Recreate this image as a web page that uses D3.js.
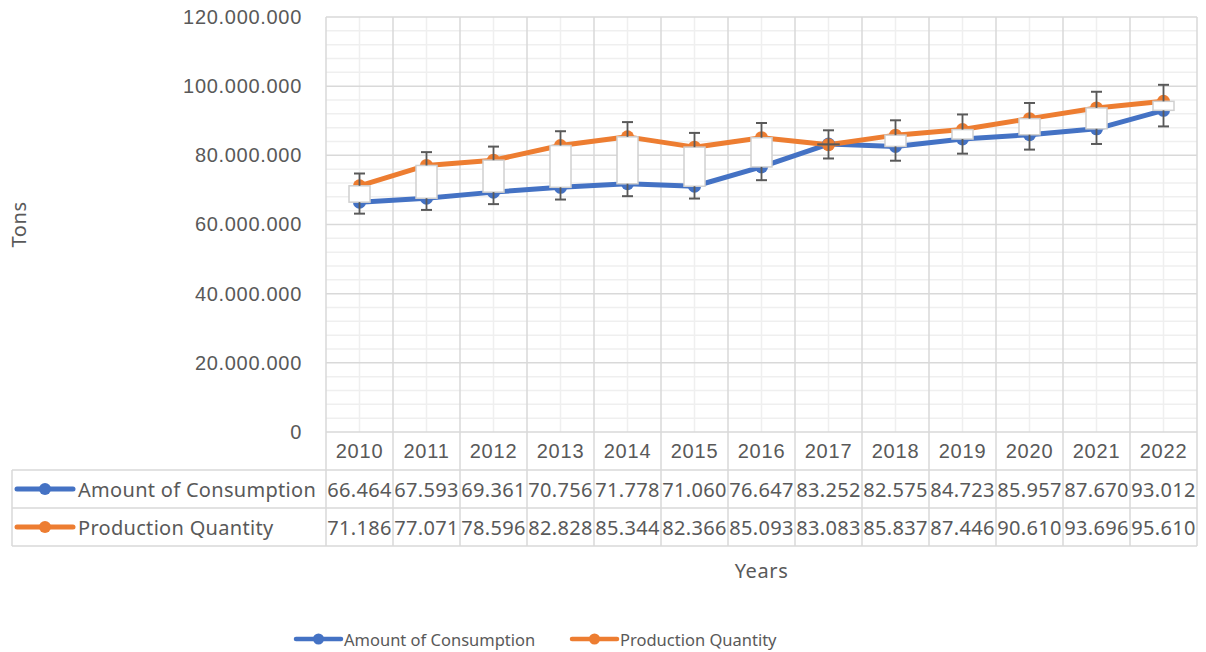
<!DOCTYPE html>
<html>
<head>
<meta charset="utf-8">
<script src="https://cdn.jsdelivr.net/npm/d3@7"></script>
<style>
  html, body { margin: 0; padding: 0; background: #fff; }
</style>
</head>
<body>
<div id="chart"></div>
<script>
// Data (tons)
const years = ["2010", "2011", "2012", "2013", "2014", "2015", "2016", "2017", "2018", "2019", "2020", "2021", "2022"];
const consumption = [66464000, 67593000, 69361000, 70756000, 71778000, 71060000, 76647000, 83252000, 82575000, 84723000, 85957000, 87670000, 93012000];
const production = [71186000, 77071000, 78596000, 82828000, 85344000, 82366000, 85093000, 83083000, 85837000, 87446000, 90610000, 93696000, 95610000];
const seriesNames = ["Amount of Consumption", "Production Quantity"];
const seriesColors = ["#4472C4", "#ED7D31"];
const yTickValues = [0, 20000000, 40000000, 60000000, 80000000, 100000000, 120000000];
const errorPercent = 0.05; // error bar amount used in the chart

class Chart {
  constructor() {
    const attrs = {
      svgWidth: 1206,
      svgHeight: 652,
      marginTop: 17,
      marginBottom: 220,
      marginRight: 9,
      marginLeft: 326,
      container: "#chart",
      defaultTextFill: "#595959",
      defaultFont: "'Noto Sans', 'Open Sans', sans-serif",
      gridMajor: "#d9d9d9",
      gridMinor: "#efefef",
      tableLeft: 12,
      rowHeight: 38,
      chartWidth: null,
      chartHeight: null
    };
    this.getState = () => attrs;
    this.setState = (d) => Object.assign(attrs, d);
  }

  render() {
    this.calculateProperties();
    this.drawSvgAndWrappers();
    this.drawGrid();
    this.drawAxes();
    this.drawTable();
    this.drawSeries();
    this.drawLegend();
    return this;
  }

  calculateProperties() {
    const { svgWidth, svgHeight, marginLeft, marginRight, marginTop, marginBottom } = this.getState();
    const chartWidth = svgWidth - marginLeft - marginRight;
    const chartHeight = svgHeight - marginTop - marginBottom;

    const x = d3.scaleBand().domain(years).range([0, chartWidth]).paddingInner(0).paddingOuter(0);
    const y = d3.scaleLinear().domain([0, 120000000]).range([chartHeight, 0]);

    const locale = d3.formatLocale({ decimal: ",", thousands: ".", grouping: [3], currency: ["", ""] });
    const fmt = locale.format(",.0f");
    // the table cells only show the first six characters of the value
    const cellFmt = (v) => d3.format(".3f")(v / 1e6);

    this.setState({ chartWidth, chartHeight, x, y, fmt, cellFmt });
  }

  drawSvgAndWrappers() {
    const { container, svgWidth, svgHeight, defaultFont, marginLeft, marginTop } = this.getState();
    const svg = d3.select(container).append("svg")
      .attr("width", svgWidth)
      .attr("height", svgHeight)
      .attr("font-family", defaultFont);

    const chart = svg.append("g")
      .attr("transform", `translate(${marginLeft},${marginTop})`);

    this.setState({ svg, chart });
  }

  drawGrid() {
    const { chart, x, y, chartWidth, chartHeight, gridMajor, gridMinor } = this.getState();
    const g = chart.append("g").attr("class", "grid");

    // minor horizontal lines every 4M
    const minor = d3.range(0, 120000001, 4000000).filter(v => v % 20000000 !== 0);
    g.selectAll(".minor-h").data(minor).join("line")
      .attr("class", "minor-h")
      .attr("x1", 0).attr("x2", chartWidth)
      .attr("y1", d => y(d)).attr("y2", d => y(d))
      .attr("stroke", gridMinor).attr("stroke-width", 1.5);

    // minor vertical lines at category centres
    g.selectAll(".minor-v").data(years).join("line")
      .attr("class", "minor-v")
      .attr("x1", d => x(d) + x.bandwidth() / 2).attr("x2", d => x(d) + x.bandwidth() / 2)
      .attr("y1", 0).attr("y2", chartHeight)
      .attr("stroke", gridMinor).attr("stroke-width", 1.5);

    // major horizontal lines
    g.selectAll(".major-h").data(yTickValues).join("line")
      .attr("class", "major-h")
      .attr("x1", 0).attr("x2", chartWidth)
      .attr("y1", d => y(d)).attr("y2", d => y(d))
      .attr("stroke", gridMajor).attr("stroke-width", 1.5);

    // major vertical lines at category boundaries
    const bounds = years.map(d => x(d)).concat([chartWidth]);
    g.selectAll(".major-v").data(bounds).join("line")
      .attr("class", "major-v")
      .attr("x1", d => d).attr("x2", d => d)
      .attr("y1", 0).attr("y2", chartHeight)
      .attr("stroke", gridMajor).attr("stroke-width", 1.5);
  }

  drawAxes() {
    const { chart, x, y, fmt, chartWidth, chartHeight, defaultTextFill, rowHeight, marginLeft } = this.getState();

    const yAxis = chart.append("g")
      .call(d3.axisLeft(y).tickValues(yTickValues).tickFormat(fmt).tickSize(0).tickPadding(24));
    yAxis.select(".domain").remove();
    yAxis.selectAll("text")
      .attr("font-family", null)
      .attr("font-size", 20)
      .attr("letter-spacing", 0.7)
      .attr("fill", defaultTextFill);

    const xAxis = chart.append("g")
      .attr("transform", `translate(0,${chartHeight})`)
      .call(d3.axisBottom(x).tickSize(0));
    xAxis.select(".domain").remove();
    xAxis.selectAll("text")
      .attr("font-family", null)
      .attr("font-size", 20)
      .attr("letter-spacing", 0.8)
      .attr("fill", defaultTextFill)
      .attr("y", rowHeight / 2)
      .attr("dy", "0.36em");

    // axis titles
    chart.append("text")
      .attr("x", chartWidth / 2)
      .attr("y", chartHeight + rowHeight * 3 + 24)
      .attr("text-anchor", "middle")
      .attr("dominant-baseline", "central")
      .attr("font-size", 20)
      .attr("letter-spacing", 0.6)
      .attr("fill", defaultTextFill)
      .text("Years");

    chart.append("text")
      .attr("transform", `translate(${18 - marginLeft},${chartHeight / 2}) rotate(-90)`)
      .attr("text-anchor", "middle")
      .attr("dominant-baseline", "central")
      .attr("font-size", 20)
      .attr("letter-spacing", 0.6)
      .attr("fill", defaultTextFill)
      .text("Tons");
  }

  drawTable() {
    const { chart, x, cellFmt, chartWidth, chartHeight, rowHeight, tableLeft, marginLeft, gridMajor, defaultTextFill } = this.getState();
    const g = chart.append("g").attr("class", "data-table");
    const left = tableLeft - marginLeft;
    const top = chartHeight;
    const stroke = 1.5;

    // vertical separators through header + rows
    const bounds = years.map(d => x(d)).concat([chartWidth]);
    g.selectAll(".col-line").data(bounds).join("line")
      .attr("class", "col-line")
      .attr("x1", d => d).attr("x2", d => d)
      .attr("y1", top).attr("y2", top + rowHeight * 3)
      .attr("stroke", gridMajor).attr("stroke-width", stroke);

    // row borders
    [1, 2, 3].forEach(r => {
      g.append("line")
        .attr("x1", left).attr("x2", chartWidth)
        .attr("y1", top + rowHeight * r).attr("y2", top + rowHeight * r)
        .attr("stroke", gridMajor).attr("stroke-width", stroke);
    });
    g.append("line")
      .attr("x1", left).attr("x2", left)
      .attr("y1", top + rowHeight).attr("y2", top + rowHeight * 3)
      .attr("stroke", gridMajor).attr("stroke-width", stroke);

    const series = [consumption, production];
    series.forEach((values, s) => {
      const cy = top + rowHeight * (s + 1) + rowHeight / 2;

      // legend key inside the table
      g.append("line")
        .attr("x1", left + 5).attr("x2", left + 61)
        .attr("y1", cy).attr("y2", cy)
        .attr("stroke", seriesColors[s]).attr("stroke-width", 5)
        .attr("stroke-linecap", "round");
      g.append("circle")
        .attr("cx", left + 33).attr("cy", cy).attr("r", 6)
        .attr("fill", seriesColors[s]);
      g.append("text")
        .attr("x", left + 66).attr("y", cy)
        .attr("dominant-baseline", "central")
        .attr("font-size", 20)
        .attr("letter-spacing", 0.3)
        .attr("fill", defaultTextFill)
        .text(seriesNames[s]);

      g.selectAll(".val-" + s).data(values).join("text")
        .attr("class", "val-" + s)
        .attr("x", (d, i) => x(years[i]) + x.bandwidth() / 2)
        .attr("y", cy)
        .attr("text-anchor", "middle")
        .attr("dominant-baseline", "central")
        .attr("font-size", 20)
        .attr("letter-spacing", 0.3)
        .attr("fill", defaultTextFill)
        .text(d => cellFmt(d));
    });
  }

  drawSeries() {
    const { chart, x, y } = this.getState();
    const cx = (i) => x(years[i]) + x.bandwidth() / 2;
    const series = [consumption, production];

    const line = d3.line()
      .x((d, i) => cx(i))
      .y(d => y(d));

    series.forEach((values, s) => {
      chart.append("path")
        .datum(values)
        .attr("fill", "none")
        .attr("stroke", seriesColors[s])
        .attr("stroke-width", 5)
        .attr("stroke-linejoin", "round")
        .attr("d", line);
    });

    series.forEach((values, s) => {
      chart.selectAll(".marker-" + s).data(values).join("circle")
        .attr("class", "marker-" + s)
        .attr("cx", (d, i) => cx(i))
        .attr("cy", d => y(d))
        .attr("r", 6.5)
        .attr("fill", seriesColors[s]);
    });

    // up/down bars between the two series
    const boxW = 21;
    chart.selectAll(".updown").data(years).join("rect")
      .attr("class", "updown")
      .attr("x", (d, i) => cx(i) - boxW / 2)
      .attr("y", (d, i) => y(Math.max(consumption[i], production[i])))
      .attr("width", boxW)
      .attr("height", (d, i) => Math.abs(y(consumption[i]) - y(production[i])))
      .attr("fill", (d, i) => production[i] >= consumption[i] ? "#ffffff" : "#595959")
      .attr("stroke", (d, i) => production[i] >= consumption[i] ? "#d0d0d0" : "#595959")
      .attr("stroke-width", 1.5);

    // error bars: production plus, consumption minus
    const capW = 5.5;
    const errs = [
      { values: consumption, sign: -1 },
      { values: production, sign: 1 }
    ];
    errs.forEach((e, s) => {
      const g = chart.append("g").attr("class", "err-" + s);
      e.values.forEach((v, i) => {
        const yEnd = y(v * (1 + e.sign * errorPercent));
        g.append("line")
          .attr("x1", cx(i)).attr("x2", cx(i))
          .attr("y1", y(v)).attr("y2", yEnd)
          .attr("stroke", "#595959").attr("stroke-width", 1.8);
        g.append("line")
          .attr("x1", cx(i) - capW).attr("x2", cx(i) + capW)
          .attr("y1", yEnd).attr("y2", yEnd)
          .attr("stroke", "#595959").attr("stroke-width", 2);
      });
    });
  }

  drawLegend() {
    const { svg, defaultTextFill } = this.getState();
    const legendY = 639;
    const items = [
      { name: seriesNames[0], color: seriesColors[0], x: 296 },
      { name: seriesNames[1], color: seriesColors[1], x: 572 }
    ];
    const g = svg.append("g").attr("class", "legend");
    const item = g.selectAll(".legend-item").data(items).join("g")
      .attr("class", "legend-item")
      .attr("transform", d => `translate(${d.x},${legendY})`);
    item.append("line")
      .attr("x1", 0).attr("x2", 45)
      .attr("stroke", d => d.color).attr("stroke-width", 4.5)
      .attr("stroke-linecap", "round");
    item.append("circle")
      .attr("cx", 22.5).attr("r", 5.5)
      .attr("fill", d => d.color);
    item.append("text")
      .attr("x", 48)
      .attr("dominant-baseline", "central")
      .attr("font-size", 16.5)
      .attr("fill", defaultTextFill)
      .text(d => d.name);
  }
}

new Chart().render();
</script>
</body>
</html>
